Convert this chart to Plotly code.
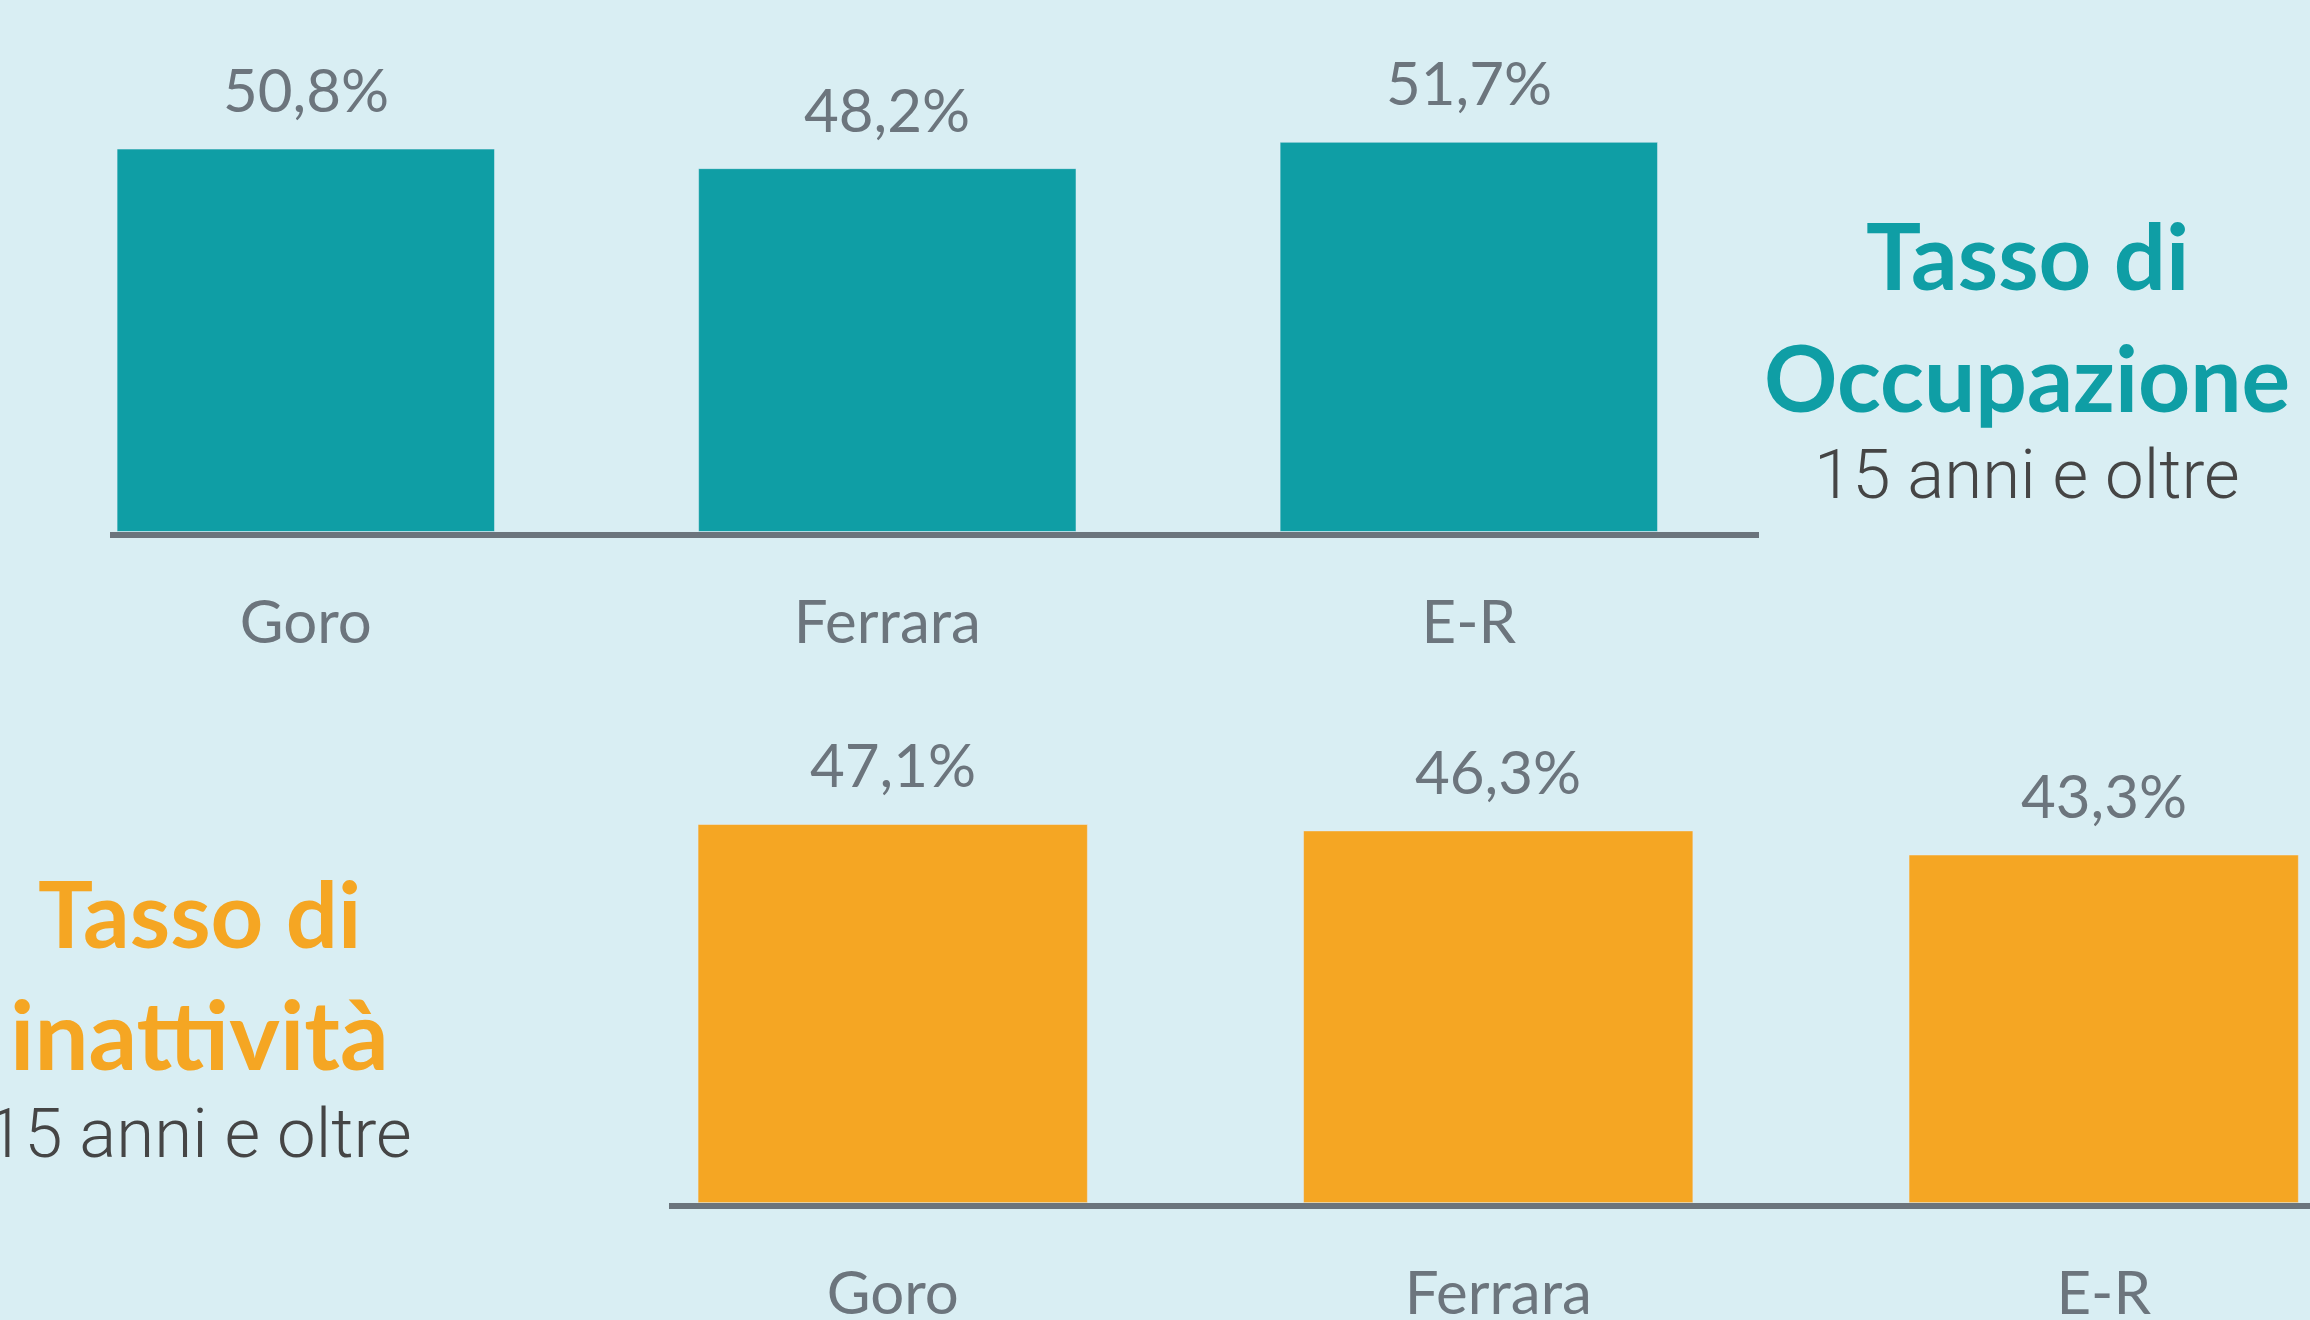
import plotly.graph_objects as go

# ---- data ----
categories = ["Goro", "Ferrara", "E-R"]
occupazione = [50.8, 48.2, 51.7]
inattivita = [47.1, 46.3, 43.3]

title_top = ["Tasso di", "Occupazione", "15 anni e oltre"]
title_bottom = ["Tasso di", "inattività", "15 anni e oltre"]

# ---- style ----
BG = "#d9eef3"
TEAL = "#0f9ea5"
ORANGE = "#f5a623"
GREY = "#6c757d"
LINE = "#6b747c"
DARK = "#454545"
W, H = 2310, 1320


def py(p):
    return 1 - p / H


def fmt(v):
    return f"{v:.1f}".replace(".", ",") + "%"


fig = go.Figure()
fig.add_trace(go.Bar(x=categories, y=occupazione, marker_color=TEAL, width=0.649,
                     xaxis="x", yaxis="y", hoverinfo="skip"))
fig.add_trace(go.Bar(x=categories, y=inattivita, marker_color=ORANGE, width=0.643,
                     xaxis="x2", yaxis="y2", hoverinfo="skip"))

LABEL_SIZE = 60
annotations = []
for c, v in zip(categories, occupazione):
    annotations.append(dict(x=c, y=v, xref="x", yref="y", text=fmt(v), showarrow=False,
                            yanchor="bottom", yshift=22,
                            font=dict(family="Lato", size=LABEL_SIZE, color=GREY)))
for c, v in zip(categories, inattivita):
    annotations.append(dict(x=c, y=v, xref="x2", yref="y2", text=fmt(v), showarrow=False,
                            yanchor="bottom", yshift=22,
                            font=dict(family="Lato", size=LABEL_SIZE, color=GREY)))

TITLE_FONT = "Lato"
SUB_FONT = "Roboto"

for txt, yc, col, fam, size, weight in [
    (title_top[0], 255, TEAL, TITLE_FONT, 92, 700),
    (title_top[1], 376, TEAL, TITLE_FONT, 91, 700),
    (title_top[2], 474, DARK, SUB_FONT, 69, 300),
]:
    annotations.append(dict(x=2027 / W, y=py(yc), xref="paper", yref="paper", text=txt,
                            showarrow=False, xanchor="center", yanchor="middle",
                            font=dict(family=fam, size=size, color=col, weight=weight)))
for txt, yc, col, fam, size, weight in [
    (title_bottom[0], 912, ORANGE, TITLE_FONT, 92, 700),
    (title_bottom[1], 1032, ORANGE, TITLE_FONT, 96, 700),
    (title_bottom[2], 1133, DARK, SUB_FONT, 69, 300),
]:
    annotations.append(dict(x=199 / W, y=py(yc), xref="paper", yref="paper", text=txt,
                            showarrow=False, xanchor="center", yanchor="middle",
                            font=dict(family=fam, size=size, color=col, weight=weight)))

axis_common = dict(showline=True, linecolor=LINE, linewidth=6, showgrid=False,
                   zeroline=False, ticks="", ticklabelstandoff=33, automargin=False,
                   tickfont=dict(family="Lato", size=60, color=GREY), fixedrange=True)

fig.update_layout(
    width=W, height=H, margin=dict(l=0, r=0, t=0, b=0, autoexpand=False),
    paper_bgcolor=BG, plot_bgcolor=BG, showlegend=False,
    xaxis=dict(domain=[110 / W, 1759 / W], range=[-0.3367, 2.499], anchor="y", **axis_common),
    yaxis=dict(domain=[py(531.6), 1], range=[0, 531.6 / 7.53], visible=False, anchor="x",
               fixedrange=True, automargin=False),
    xaxis2=dict(domain=[669 / W, 1.0], range=[-0.3695, 2.3407], anchor="y2", **axis_common),
    yaxis2=dict(domain=[py(1202.7), py(640)], range=[0, (1202.7 - 640) / 8.03], visible=False,
                anchor="x2", fixedrange=True, automargin=False),
    annotations=annotations,
)

fig.write_html("out.html", config={"displayModeBar": False},
               post_script="document.documentElement.style.margin='0';document.body.style.margin='0';")
